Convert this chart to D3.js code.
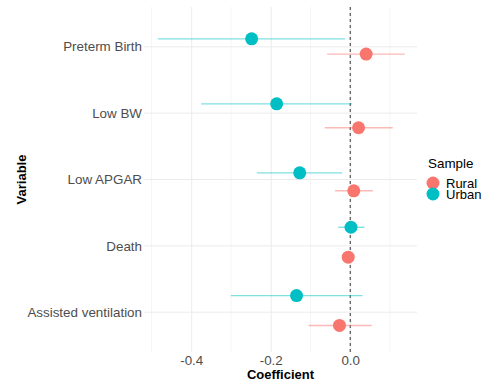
<!DOCTYPE html>
<html>
<head>
<meta charset="utf-8">
<script src="https://cdn.jsdelivr.net/npm/d3@7"></script>
<style>
  body { margin: 0; background: #fff; }
  svg { font-family: "Liberation Sans", Arial, sans-serif; }
  .grid line { stroke: #ebebeb; }
  .axis text { fill: #4d4d4d; }
</style>
</head>
<body>
<div id="chart"></div>
<script>
// categories, top to bottom
const variables = ['Preterm Birth', 'Low BW', 'Low APGAR', 'Death', 'Assisted ventilation'];
const samples = ['Rural', 'Urban'];
const xTicks = [-0.4, -0.2, 0.0];

// estimates and 95% intervals
const ruralCoef = [0.040, 0.021, 0.009, -0.005, -0.027];
const ruralLow = [-0.058, -0.064, -0.038, -0.015, -0.105];
const ruralHigh = [0.137, 0.107, 0.057, 0.005, 0.054];
const urbanCoef = [-0.248, -0.185, -0.127, 0.002, -0.135];
const urbanLow = [-0.484, -0.375, -0.235, -0.030, -0.300];
const urbanHigh = [-0.013, 0.005, -0.020, 0.036, 0.031];
// vertical jitter, in category units
const ruralJitter = [0.11, 0.22, 0.17, 0.17, 0.20];
const urbanJitter = [-0.12, -0.14, -0.10, -0.28, -0.25];

const colors = { Rural: '#F8766D', Urban: '#00BFC4' };

const width = 482;
const height = 383;
const panel = { left: 144, right: 417, top: 7, bottom: 352 };

const rows = [];
variables.forEach((v, i) => {
  rows.push({ v, s: 'Rural', coef: ruralCoef[i], lo: ruralLow[i], hi: ruralHigh[i], j: ruralJitter[i] });
  rows.push({ v, s: 'Urban', coef: urbanCoef[i], lo: urbanLow[i], hi: urbanHigh[i], j: urbanJitter[i] });
});

const svg = d3.select('#chart')
  .append('svg')
  .attr('width', width)
  .attr('height', height);

const xMin = d3.min(rows, (d) => d.lo);
const xMax = d3.max(rows, (d) => d.hi);
const pad = (xMax - xMin) * 0.05;
const x = d3.scaleLinear()
  .domain([xMin - pad, xMax + pad])
  .range([panel.left + 1.5, panel.right]);

// discrete axis as a continuous index with ggplot-style 0.6 expansion
const y = d3.scaleLinear()
  .domain([-0.6, variables.length - 1 + 0.6])
  .range([panel.top, panel.bottom]);

// minor grid
const minor = d3.range(-0.5, 0.2, 0.2).map((d) => +d.toFixed(1));
svg.append('g')
  .attr('class', 'grid')
  .selectAll('line')
  .data(minor)
  .enter()
  .append('line')
  .attr('x1', (d) => x(d)).attr('x2', (d) => x(d))
  .attr('y1', panel.top).attr('y2', panel.bottom)
  .attr('stroke-width', 0.5);

// major grid
svg.append('g')
  .attr('class', 'grid')
  .call(d3.axisBottom(x).tickValues(xTicks).tickSize(panel.bottom - panel.top).tickFormat(''))
  .attr('transform', `translate(0, ${panel.top})`)
  .call((g) => g.select('.domain').remove());

svg.append('g')
  .attr('class', 'grid')
  .selectAll('line')
  .data(variables)
  .enter()
  .append('line')
  .attr('x1', panel.left).attr('x2', panel.right)
  .attr('y1', (d, i) => y(i)).attr('y2', (d, i) => y(i))
  .attr('stroke-width', 1);

// zero reference
svg.append('line')
  .attr('x1', x(0)).attr('x2', x(0))
  .attr('y1', panel.top).attr('y2', panel.bottom)
  .attr('stroke', '#333')
  .attr('stroke-width', 1)
  .attr('stroke-dasharray', '3,3');

const vIndex = (v) => variables.indexOf(v);

// intervals
svg.append('g')
  .selectAll('line')
  .data(rows)
  .enter()
  .append('line')
  .attr('x1', (d) => x(d.lo))
  .attr('x2', (d) => x(d.hi))
  .attr('y1', (d) => y(vIndex(d.v) + d.j))
  .attr('y2', (d) => y(vIndex(d.v) + d.j))
  .attr('stroke', (d) => colors[d.s])
  .attr('stroke-opacity', 0.5)
  .attr('stroke-width', 1.4);

// estimates
svg.append('g')
  .selectAll('circle')
  .data(rows)
  .enter()
  .append('circle')
  .attr('cx', (d) => x(d.coef))
  .attr('cy', (d) => y(vIndex(d.v) + d.j))
  .attr('r', 6.5)
  .attr('fill', (d) => colors[d.s]);

// x axis labels
svg.append('g')
  .attr('class', 'axis')
  .attr('transform', `translate(0, ${panel.bottom})`)
  .call(d3.axisBottom(x).tickValues(xTicks).tickSize(0).tickPadding(3).tickFormat(d3.format('.1f')))
  .call((g) => g.select('.domain').remove())
  .selectAll('text')
  .attr('font-size', 13.4)
  .text((d) => d3.format('.1f')(d).replace('−', '-'));

// y axis labels
svg.append('g')
  .attr('class', 'axis')
  .selectAll('text')
  .data(variables)
  .enter()
  .append('text')
  .attr('x', panel.left - 2)
  .attr('y', (d, i) => y(i))
  .attr('dy', '0.35em')
  .attr('text-anchor', 'end')
  .attr('font-size', 13.4)
  .text((d) => d);

// axis titles
svg.append('text')
  .attr('x', (panel.left + panel.right) / 2)
  .attr('y', 379)
  .attr('text-anchor', 'middle')
  .attr('font-size', 13)
  .attr('font-weight', 'bold')
  .text('Coefficient');

svg.append('text')
  .attr('transform', `translate(26, ${(panel.top + panel.bottom) / 2}) rotate(-90)`)
  .attr('text-anchor', 'middle')
  .attr('font-size', 13)
  .attr('font-weight', 'bold')
  .text('Variable');

// legend
const legend = svg.append('g').attr('transform', 'translate(428, 168)');
legend.append('text')
  .attr('x', 0).attr('y', 0)
  .attr('font-size', 13.4)
  .text('Sample');
const key = legend.selectAll('.key')
  .data(samples)
  .enter()
  .append('g')
  .attr('class', 'key')
  .attr('transform', (d, i) => `translate(5, ${15 + i * 11})`);
key.append('circle')
  .attr('r', 6.5)
  .attr('fill', (d) => colors[d]);
key.append('text')
  .attr('x', 13)
  .attr('dy', '0.35em')
  .attr('font-size', 13)
  .text((d) => d);
</script>
</body>
</html>
